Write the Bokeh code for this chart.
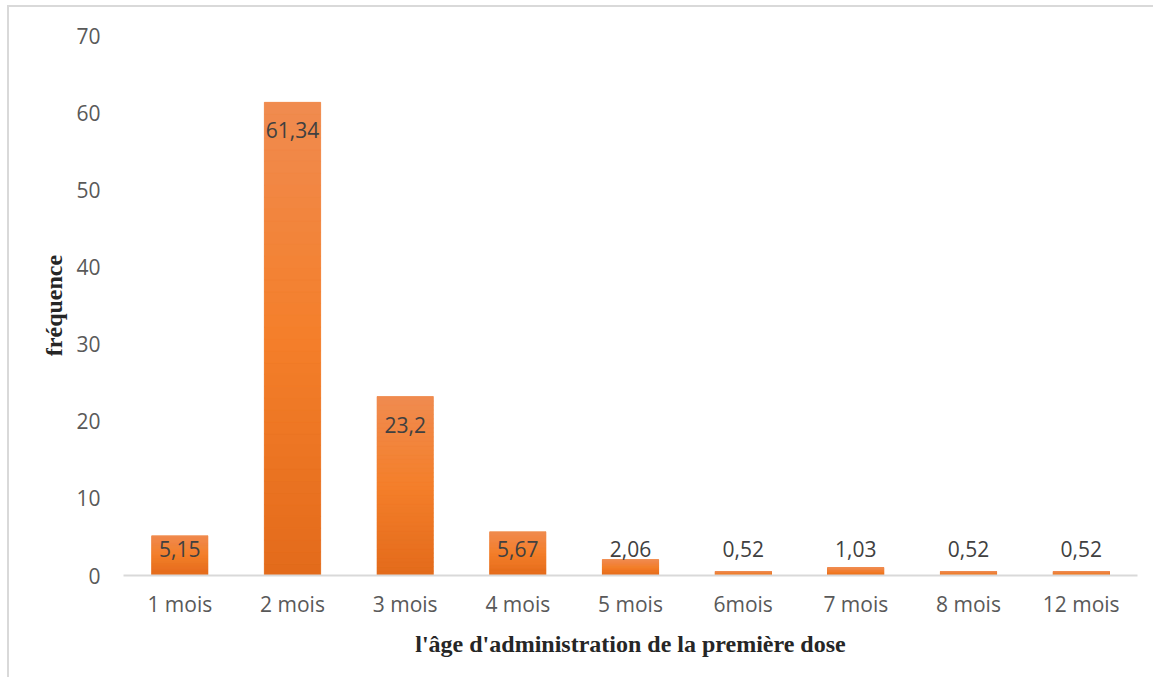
from bokeh.plotting import figure
from bokeh.models import FactorRange, Range1d, ColumnDataSource
from bokeh.core.properties import value
from bokeh.embed import file_html
from bokeh.resources import INLINE

categories = ["1 mois", "2 mois", "3 mois", "4 mois", "5 mois", "6mois", "7 mois", "8 mois", "12 mois"]
values = [5.15, 61.34, 23.2, 5.67, 2.06, 0.52, 1.03, 0.52, 0.52]
value_labels = ["5,15", "61,34", "23,2", "5,67", "2,06", "0,52", "1,03", "0,52", "0,52"]
y_ticks = [0, 10, 20, 30, 40, 50, 60, 70]
x_title = "l'âge d'administration de la première dose"
y_title = "fréquence"

W, H = 1146, 672
p = figure(x_range=FactorRange(factors=categories), y_range=Range1d(0, 70),
           width=W, height=H, output_backend="svg", toolbar_location=None,
           min_border_left=114, min_border_right=18, min_border_top=28, min_border_bottom=104)
p.styles = {"margin-left": "7px", "margin-top": "5px",
            "border-top": "2px solid #D9D9D9", "border-left": "2px solid #D9D9D9"}
p.outline_line_color = None
p.xgrid.grid_line_color = None
p.ygrid.grid_line_color = None
p.background_fill_color = "white"
p.border_fill_color = "white"

# gradient bars (top lighter -> bottom darker)
def lerp(c1, c2, t):
    return tuple(int(round(a + (b - a) * t)) for a, b in zip(c1, c2))

top_c = (240, 139, 80)
mid_c = (244, 127, 42)
bot_c = (227, 106, 27)
N = 40
xs, bots, tops, cols = [], [], [], []
for cat, v in zip(categories, values):
    for k in range(N):
        t = (k + 0.5) / N  # 0 bottom -> 1 top
        if t < 0.5:
            c = lerp(bot_c, mid_c, t / 0.5)
        else:
            c = lerp(mid_c, top_c, (t - 0.5) / 0.5)
        xs.append(cat)
        bots.append(v * k / N)
        tops.append(v * (k + 1) / N)
        cols.append("#%02x%02x%02x" % c)

p.vbar(x=categories, top=values, bottom=0, width=0.5, fill_color="#F07F2E", line_color=None)
p.vbar(x=xs, bottom=bots, top=tops, width=0.5, fill_color=cols, line_color=cols, line_width=0.6)

# value labels
lab_y = [v if v >= 10 else 0 for v in values]
lab_off = [28 if v >= 10 else -27 for v in values]
src = ColumnDataSource(dict(x=categories, y=lab_y, off=lab_off, t=value_labels))
p.text(x="x", y="y", text="t", y_offset="off", source=src, text_align="center",
       text_baseline="middle", text_font=value("Open Sans"), text_font_size="21px",
       text_color="#404040")

# axes
p.yaxis.ticker = y_ticks
p.yaxis.axis_line_color = None
p.yaxis.major_tick_line_color = None
p.yaxis.minor_tick_line_color = None
p.yaxis.major_tick_in = 0
p.yaxis.major_tick_out = 0
p.yaxis.major_label_standoff = 23
p.yaxis.major_label_text_font = "Open Sans"
p.yaxis.major_label_text_font_size = "21px"
p.yaxis.major_label_text_color = "#595959"
p.yaxis.axis_label = y_title
p.yaxis.axis_label_text_font = "Liberation Serif"
p.yaxis.axis_label_text_font_style = "bold"
p.yaxis.axis_label_text_font_size = "24px"
p.yaxis.axis_label_text_color = "#262626"
p.yaxis.axis_label_standoff = 6

p.xaxis.axis_line_color = "#D9D9D9"
p.xaxis.axis_line_width = 2
p.xaxis.major_tick_line_color = None
p.xaxis.minor_tick_line_color = None
p.xaxis.major_tick_in = 0
p.xaxis.major_tick_out = 0
p.xaxis.major_label_standoff = 14
p.xaxis.major_label_text_font = "Open Sans"
p.xaxis.major_label_text_font_size = "21px"
p.xaxis.major_label_text_color = "#595959"
p.xaxis.axis_label = x_title
p.xaxis.axis_label_text_font = "Liberation Serif"
p.xaxis.axis_label_text_font_style = "bold"
p.xaxis.axis_label_text_font_size = "24px"
p.xaxis.axis_label_text_color = "#262626"
p.xaxis.axis_label_standoff = 10

open("out.html", "w").write(file_html(p, INLINE))
